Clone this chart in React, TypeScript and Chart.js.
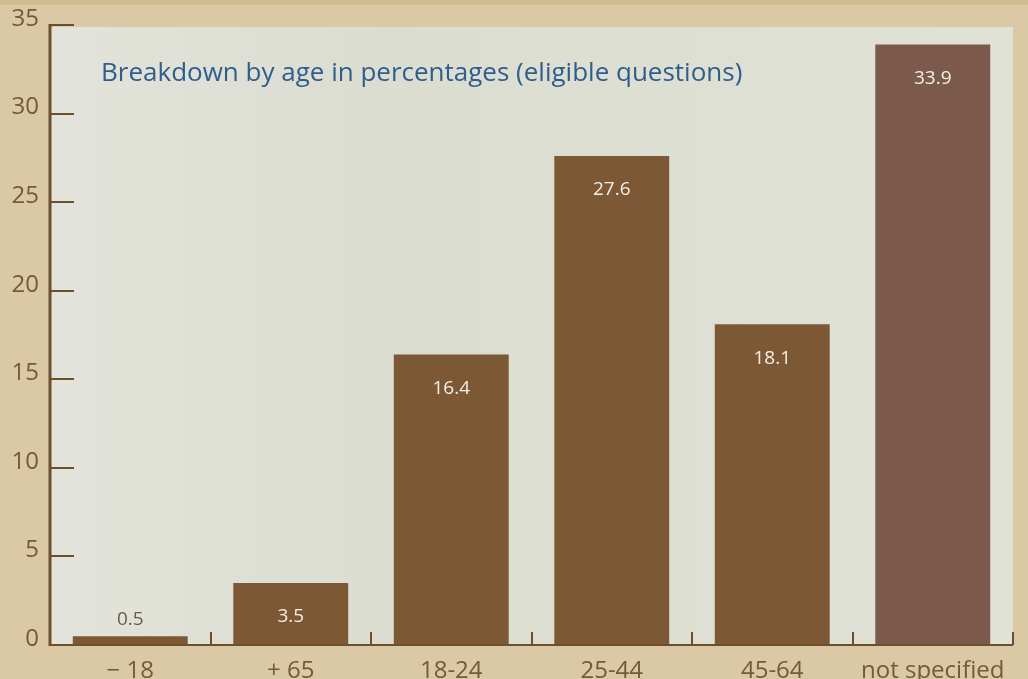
import React, { useEffect, useRef } from "react";
import { Chart, registerables } from "chart.js";

Chart.register(...registerables);

const categories = ["− 18", "+ 65", "18-24", "25-44", "45-64", "not specified"];
const values = [0.5, 3.5, 16.4, 27.6, 18.1, 33.9];
const valueLabels = ["0.5", "3.5", "16.4", "27.6", "18.1", "33.9"];
const barColors = ["#7c5934", "#7c5934", "#7c5934", "#7c5934", "#7c5934", "#7b5a4b"];
const yMin = 0;
const yMax = 35;
const yStep = 5;
const titleText = "Breakdown by age in percentages (eligible questions)";

const FONT = "'Open Sans', 'DejaVu Sans', sans-serif";
const TAN = "#dbc9a6";
const AXIS = "#6e4f2c";
const TICK_TEXT = "#735a3a";

const decorPlugin = {
  id: "decor",
  beforeDraw(chart: any) {
    const { ctx, chartArea } = chart;
    const w = chart.width;
    const h = chart.height;
    ctx.save();
    ctx.fillStyle = TAN;
    ctx.fillRect(0, 0, w, h);
    ctx.fillStyle = "#d0bb93";
    ctx.fillRect(0, 0, w, 5);
    const g = ctx.createLinearGradient(chartArea.left, 0, chartArea.right, 0);
    g.addColorStop(0, "#e2e3da");
    g.addColorStop(0.35, "#dbddd1");
    g.addColorStop(1, "#e0e2d7");
    ctx.fillStyle = g;
    ctx.fillRect(chartArea.left + 1, chartArea.top + 2, chartArea.right - chartArea.left - 1, chartArea.bottom - chartArea.top - 2);
    ctx.restore();
  },
  afterDatasetsDraw(chart: any) {
    const { ctx, chartArea, scales } = chart;
    const x = scales.x;
    const y = scales.y;
    ctx.save();
    ctx.strokeStyle = AXIS;
    ctx.lineCap = "butt";
    ctx.lineWidth = 3;
    ctx.beginPath();
    ctx.moveTo(chartArea.left, y.getPixelForValue(yMax) - 1);
    ctx.lineTo(chartArea.left, y.getPixelForValue(0) + 1);
    ctx.stroke();
    ctx.lineWidth = 2;
    y.ticks.forEach((t: any) => {
      const py = Math.round(y.getPixelForValue(t.value));
      ctx.beginPath();
      ctx.moveTo(chartArea.left, py);
      ctx.lineTo(chartArea.left + 24, py);
      ctx.stroke();
    });
    const y0 = y.getPixelForValue(0);
    ctx.lineWidth = 2;
    ctx.beginPath();
    ctx.moveTo(chartArea.left, y0);
    ctx.lineTo(chartArea.right, y0);
    ctx.stroke();
    const n = categories.length;
    for (let i = 0; i < n; i++) {
      const c = x.getPixelForValue(i);
      const next = i < n - 1 ? x.getPixelForValue(i + 1) : c + (c - x.getPixelForValue(i - 1));
      const bx = Math.round((c + next) / 2);
      ctx.beginPath();
      ctx.moveTo(bx, y0);
      ctx.lineTo(bx, y0 - 13);
      ctx.stroke();
    }
    const meta = chart.getDatasetMeta(0);
    ctx.font = `19px ${FONT}`;
    ctx.textAlign = "center";
    ctx.textBaseline = "middle";
    meta.data.forEach((bar: any, i: number) => {
      const v = values[i];
      if (v < 2) {
        ctx.fillStyle = "#6b5a40";
        ctx.fillText(valueLabels[i], bar.x, bar.y - 17);
      } else {
        ctx.fillStyle = "#f4efe6";
        ctx.fillText(valueLabels[i], bar.x, bar.y + 34);
      }
    });
    ctx.font = `26px ${FONT}`;
    ctx.fillStyle = "#2f5e8d";
    ctx.textAlign = "left";
    ctx.textBaseline = "alphabetic";
    ctx.fillText(titleText, 101, 81);
    ctx.restore();
  },
};

export default function App() {
  const ref = useRef<HTMLCanvasElement | null>(null);
  useEffect(() => {
    if (!ref.current) return;
    const chart = new Chart(ref.current, {
      type: "bar",
      data: {
        labels: categories,
        datasets: [
          {
            data: values,
            backgroundColor: barColors,
            borderWidth: 0,
            barPercentage: 0.716,
            categoryPercentage: 1,
          },
        ],
      },
      options: {
        animation: false,
        responsive: false,
        devicePixelRatio: 1,
        layout: { padding: { top: 25, right: 15, left: 0, bottom: 0 } },
        plugins: {
          legend: { display: false },
          tooltip: { enabled: false },
          title: { display: false },
        },
        scales: {
          x: {
            grid: { display: false },
            border: { display: false },
            ticks: {
              color: TICK_TEXT,
              font: { family: FONT, size: 24 },
              padding: 4,
              maxRotation: 0,
              autoSkip: false,
            },
            afterFit: (s: any) => {
              s.height = 34;
            },
          },
          y: {
            min: yMin,
            max: yMax,
            grid: { display: false },
            border: { display: false },
            ticks: {
              stepSize: yStep,
              color: TICK_TEXT,
              font: { family: FONT, size: 24 },
              padding: 3,
              labelOffset: -6,
              autoSkip: false,
            },
            afterFit: (s: any) => {
              s.width = 50;
            },
          },
        },
      },
      plugins: [decorPlugin],
    });
    return () => chart.destroy();
  }, []);
  return (
    <div style={{ position: "absolute", left: 0, top: 0, width: 1028, height: 679, background: TAN, overflow: "hidden" }}>
      <canvas ref={ref} width={1028} height={679} style={{ width: 1028, height: 679, display: "block" }} />
    </div>
  );
}
